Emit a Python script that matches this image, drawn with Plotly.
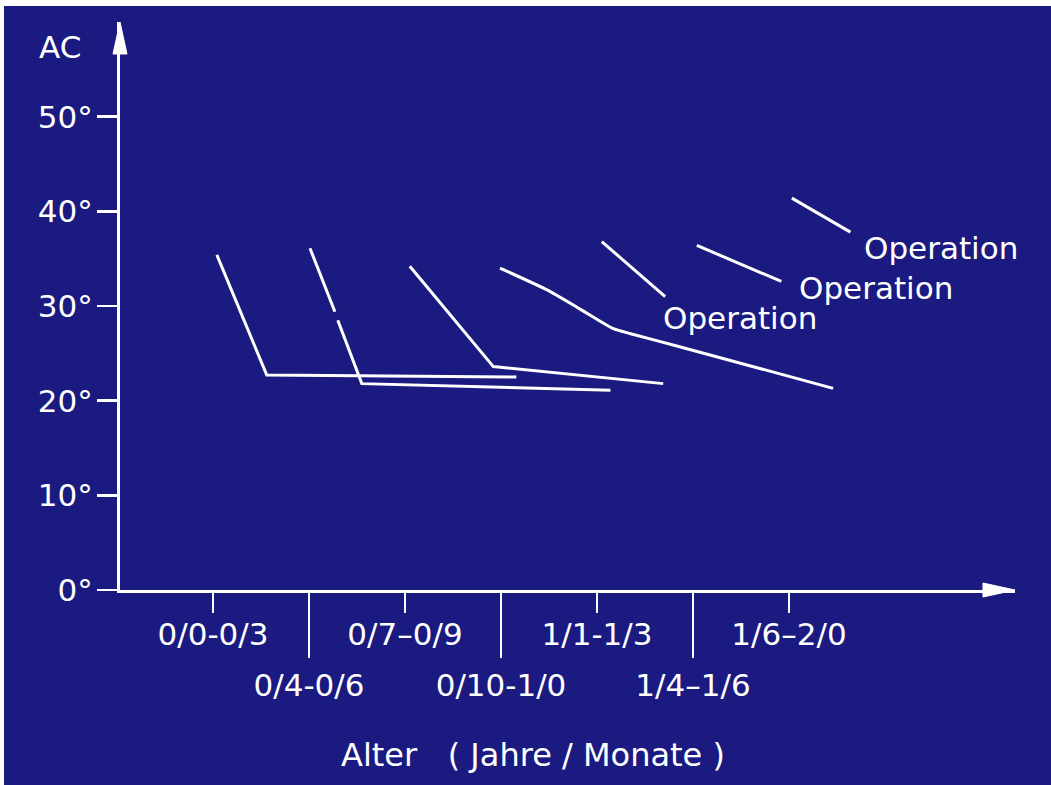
import plotly.graph_objects as go

# ---------------- data ----------------
categories = ["0/0-0/3", "0/4-0/6", "0/7–0/9", "0/10-1/0", "1/1-1/3", "1/4–1/6", "1/6–2/0"]
y_tick_values = [0, 10, 20, 30, 40, 50]
y_tick_labels = ["0°", "10°", "20°", "30°", "40°", "50°"]

# course curves (x in category positions, y = AC angle in degrees)
curve1_x = [0.04, 0.56, 3.16]
curve1_y = [35.4, 22.7, 22.5]
curve2_x = [1.01, 1.27, None, 1.30, 1.55, 4.14]
curve2_y = [36.1, 29.4, None, 28.5, 21.8, 21.1]
curve3_x = [2.05, 2.92, 4.69]
curve3_y = [34.2, 23.6, 21.8]
curve4_x = [2.99, 3.48, 3.82, 4.17, 4.34, 4.86, 6.46]
curve4_y = [34.0, 31.7, 29.7, 27.6, 27.1, 25.7, 21.3]
curve5_x = [4.05, 4.71]
curve5_y = [36.8, 31.0]
curve6_x = [5.04, 5.92]
curve6_y = [36.4, 32.6]
curve7_x = [6.03, 6.64]
curve7_y = [41.4, 37.8]

op_label_x = [4.67, 6.08, 6.76]
op_label_y = [28.7, 31.9, 36.1]
op_label_text = ["Operation", "Operation", "Operation"]

# ---------------- style ----------------
BG = "#1b1a80"
FG = "white"
FONT = "DejaVu Sans, Liberation Sans, Arial, sans-serif"
FS = 31

W, H = 1051, 785
ML, MR, MT, MB = 120, 36, 22, 195
XR = [-93 / 96, 802 / 96]
YR = [0, 60]
PW, PH = W - ML - MR, H - MT - MB

fig = go.Figure()

curves = [(curve1_x, curve1_y, "linear"), (curve2_x, curve2_y, "linear"),
          (curve3_x, curve3_y, "linear"), (curve4_x, curve4_y, "spline"),
          (curve5_x, curve5_y, "linear"), (curve6_x, curve6_y, "linear"),
          (curve7_x, curve7_y, "linear")]
for cx, cy, shp in curves:
    line = dict(color=FG, width=3, shape=shp)
    if shp == "spline":
        line["smoothing"] = 0.5
    fig.add_trace(go.Scatter(x=cx, y=cy, mode="lines", line=line,
                             showlegend=False, hoverinfo="skip",
                             connectgaps=False, cliponaxis=False))

# dummy trace on the secondary x axis so that it renders
fig.add_trace(go.Scatter(x=[None], y=[None], xaxis="x2", yaxis="y",
                         showlegend=False, hoverinfo="skip"))

even_idx = [i for i in range(len(categories)) if i % 2 == 0]
odd_idx = [i for i in range(len(categories)) if i % 2 == 1]

fig.update_layout(
    width=W, height=H,
    margin=dict(l=ML, r=MR, t=MT, b=MB, pad=0),
    paper_bgcolor="white",
    plot_bgcolor="rgba(0,0,0,0)",
    font=dict(family=FONT, color=FG, size=FS),
    xaxis=dict(range=XR, showgrid=False, zeroline=False,
               showline=True, linecolor=FG, linewidth=3,
               tickmode="array", tickvals=even_idx,
               ticktext=[categories[i] for i in even_idx],
               ticks="outside", ticklen=20, tickwidth=2.5, tickcolor=FG,
               ticklabelstandoff=-5,
               tickfont=dict(family=FONT, size=FS, color=FG)),
    xaxis2=dict(range=XR, overlaying="x", side="bottom", anchor="y",
                showgrid=False, zeroline=False, showline=False,
                tickmode="array", tickvals=odd_idx,
                ticktext=[categories[i] for i in odd_idx],
                ticks="outside", ticklen=67, tickwidth=2.5, tickcolor=FG,
                ticklabelstandoff=1,
                tickfont=dict(family=FONT, size=FS, color=FG)),
    yaxis=dict(range=YR, showgrid=False, zeroline=False,
               showline=True, linecolor=FG, linewidth=3,
               tickmode="array", tickvals=y_tick_values, ticktext=y_tick_labels,
               ticks="outside", ticklen=20, tickwidth=2.5, tickcolor=FG,
               ticklabelstandoff=-2,
               tickfont=dict(family=FONT, size=FS, color=FG)),
)

# page-pixel -> paper fraction helpers
px2fx = lambda px: (px - ML) / PW
py2fy = lambda py: (H - MB - py) / PH

# blue background panel (leaves thin white strips at top and left, as in the scan)
fig.add_shape(type="rect", xref="paper", yref="paper",
              x0=px2fx(4), x1=px2fx(W + 20), y0=py2fy(H + 20), y1=py2fy(6),
              fillcolor=BG, line=dict(width=0), layer="below")

# arrow heads (axis ends), in paper coordinates so they are not clipped
ax_len, ax_half = 32, 7
fig.add_shape(type="path", xref="paper", yref="paper",
              path=(f"M 0,1 L {-ax_half/PW},{1 - ax_len/PH} "
                    f"L {ax_half/PW},{1 - ax_len/PH} Z"),
              fillcolor=FG, line=dict(color=FG, width=1), layer="above")
fig.add_shape(type="path", xref="paper", yref="paper",
              path=(f"M 1,0 L {1 - ax_len/PW},{ax_half/PH} "
                    f"L {1 - ax_len/PW},{-ax_half/PH} Z"),
              fillcolor=FG, line=dict(color=FG, width=1), layer="above")

# Operation labels
for lx, ly, lt in zip(op_label_x, op_label_y, op_label_text):
    fig.add_annotation(x=lx, y=ly, xref="x", yref="y", text=lt, showarrow=False,
                       xanchor="left", yanchor="middle",
                       font=dict(family=FONT, size=FS, color=FG))

# axis titles
fig.add_annotation(x=px2fx(37), y=py2fy(47), xref="paper", yref="paper", text="AC",
                   showarrow=False, xanchor="left", yanchor="middle",
                   font=dict(family=FONT, size=FS, color=FG))
fig.add_annotation(x=px2fx(533), y=py2fy(755), xref="paper", yref="paper",
                   text="Alter   ( Jahre / Monate )", showarrow=False,
                   xanchor="center", yanchor="middle",
                   font=dict(family=FONT, size=32, color=FG))

fig.write_html("out.html",
               config={"displayModeBar": False, "staticPlot": True},
               post_script="document.body.style.margin='0';"
                           "document.documentElement.style.overflow='hidden';")
